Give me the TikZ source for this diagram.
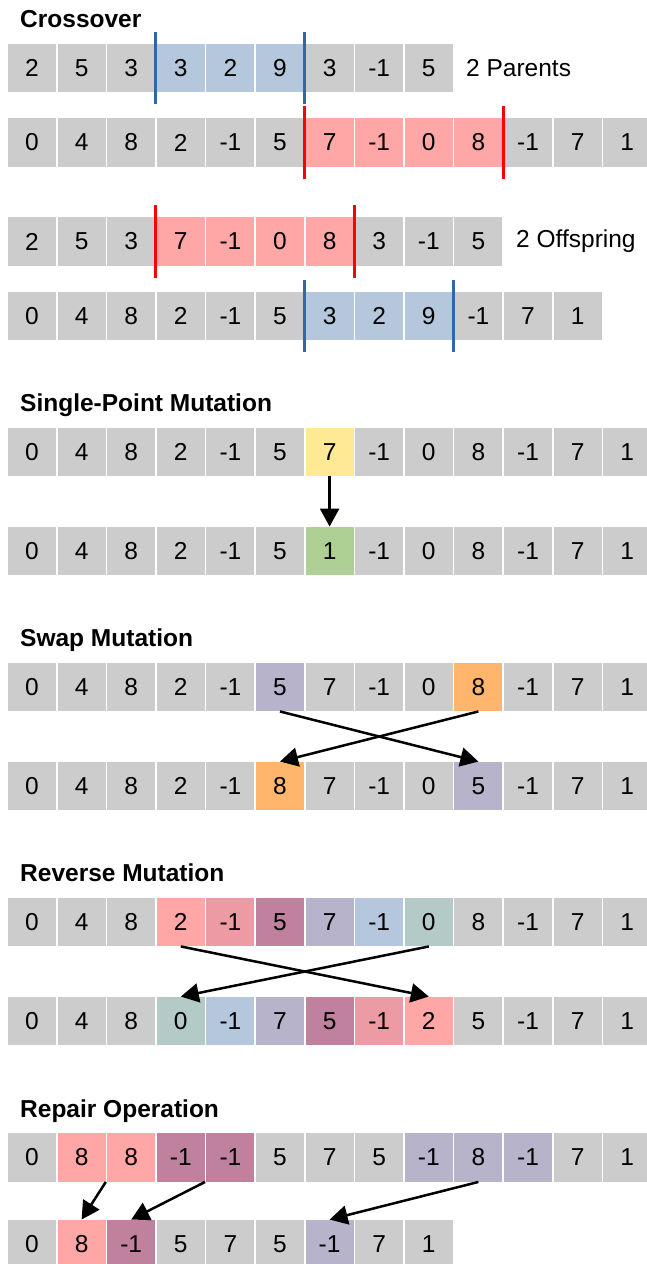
\documentclass[tikz,border=0pt]{standalone}
\usepackage{fontspec}
\setmainfont{Liberation Sans}
\usepackage{xcolor}
\usetikzlibrary{arrows.meta,calc}
\definecolor{cgray}{HTML}{CCCCCC}
\definecolor{cblue}{HTML}{B4C7DC}
\definecolor{cred}{HTML}{FFA6A6}
\definecolor{cyel}{HTML}{FFE994}
\definecolor{cgreen}{HTML}{AFD095}
\definecolor{clav}{HTML}{B7B3CA}
\definecolor{corange}{HTML}{FFB66C}
\definecolor{cpink}{HTML}{EC9BA4}
\definecolor{cmauve}{HTML}{BF819E}
\definecolor{cteal}{HTML}{B3CAC7}
\definecolor{lineblue}{HTML}{3465A4}
\definecolor{linered}{HTML}{FF0000}

\begin{document}
\begin{tikzpicture}[
    x=1pt, y=-1pt,
    font=\fontsize{24.5}{28}\selectfont,
    cell/.style={
        rectangle,
        inner sep=0pt,
        minimum width=48pt,
        minimum height=48.5pt,
        fill=cgray
    },
    title/.style={
        anchor=base west,
        inner sep=0pt,
        font=\fontsize{24.5}{28}\selectfont\bfseries
    },
    note/.style={
        anchor=west,
        inner sep=0pt
    },
    bluecut/.style={
        draw=lineblue,
        line width=3pt
    },
    redcut/.style={
        draw=linered,
        line width=3pt
    },
    arrow/.style={
        -{Triangle[width=19pt,length=18pt]},
        line width=2.5pt,
        draw=black
    }
]

\useasboundingbox (0,0) rectangle (647,1264);

% Crossover
\node[title] (tcross) at (20,27) {Crossover};

\foreach \v/\c [count=\i from 0] in {2/cgray,5/cgray,3/cgray,3/cblue,2/cblue,9/cblue,3/cgray,-1/cgray,5/cgray}
    \node[cell, fill=\c] (p1-\i) at ({32+49.6*\i},68) {\v};
\node[note] (parents) at (466,68) {2 Parents};

\foreach \v/\c [count=\i from 0] in {0/cgray,4/cgray,8/cgray,2/cgray,-1/cgray,5/cgray,7/cred,-1/cred,0/cred,8/cred,-1/cgray,7/cgray,1/cgray}
    \node[cell, fill=\c] (p2-\i) at ({32+49.6*\i},142.5) {\v};

\draw[bluecut] ($(p1-3.north west)+(-0.8,-12)$) -- ($(p1-3.south west)+(-0.8,12)$);
\draw[bluecut] ($(p1-6.north west)+(-0.8,-12)$) -- ($(p1-6.south west)+(-0.8,12)$);
\draw[redcut] ($(p2-6.north west)+(-0.8,-12)$) -- ($(p2-6.south west)+(-0.8,12)$);
\draw[redcut] ($(p2-10.north west)+(-0.8,-12)$) -- ($(p2-10.south west)+(-0.8,12)$);

\foreach \v/\c [count=\i from 0] in {2/cgray,5/cgray,3/cgray,7/cred,-1/cred,0/cred,8/cred,3/cgray,-1/cgray,5/cgray}
    \node[cell, fill=\c] (o1-\i) at ({32+49.6*\i},241.5) {\v};
\node[note] (offspring) at (516,241.5) {2 Offspring};

\foreach \v/\c [count=\i from 0] in {0/cgray,4/cgray,8/cgray,2/cgray,-1/cgray,5/cgray,3/cblue,2/cblue,9/cblue,-1/cgray,7/cgray,1/cgray}
    \node[cell, fill=\c] (o2-\i) at ({32+49.6*\i},316) {\v};

\draw[redcut] ($(o1-3.north west)+(-0.8,-12)$) -- ($(o1-3.south west)+(-0.8,12)$);
\draw[redcut] ($(o1-7.north west)+(-0.8,-12)$) -- ($(o1-7.south west)+(-0.8,12)$);
\draw[bluecut] ($(o2-6.north west)+(-0.8,-12)$) -- ($(o2-6.south west)+(-0.8,12)$);
\draw[bluecut] ($(o2-9.north west)+(-0.8,-12)$) -- ($(o2-9.south west)+(-0.8,12)$);

% Single-point mutation
\node[title] (tsingle) at (20,411.7) {Single-Point Mutation};

\foreach \v/\c [count=\i from 0] in {0/cgray,4/cgray,8/cgray,2/cgray,-1/cgray,5/cgray,7/cyel,-1/cgray,0/cgray,8/cgray,-1/cgray,7/cgray,1/cgray}
    \node[cell, fill=\c] (m1-\i) at ({32+49.6*\i},452) {\v};
\foreach \v/\c [count=\i from 0] in {0/cgray,4/cgray,8/cgray,2/cgray,-1/cgray,5/cgray,1/cgreen,-1/cgray,0/cgray,8/cgray,-1/cgray,7/cgray,1/cgray}
    \node[cell, fill=\c] (m2-\i) at ({32+49.6*\i},551) {\v};

\draw[arrow] (m1-6.south) -- (m2-6.north);

% Swap mutation
\node[title] (tswap) at (20,646.7) {Swap Mutation};

\foreach \v/\c [count=\i from 0] in {0/cgray,4/cgray,8/cgray,2/cgray,-1/cgray,5/clav,7/cgray,-1/cgray,0/cgray,8/corange,-1/cgray,7/cgray,1/cgray}
    \node[cell, fill=\c] (s1-\i) at ({32+49.6*\i},687) {\v};
\foreach \v/\c [count=\i from 0] in {0/cgray,4/cgray,8/cgray,2/cgray,-1/cgray,8/corange,7/cgray,-1/cgray,0/cgray,5/clav,-1/cgray,7/cgray,1/cgray}
    \node[cell, fill=\c] (s2-\i) at ({32+49.6*\i},786) {\v};

\draw[arrow] (s1-5.south) -- (s2-9.north);
\draw[arrow] (s1-9.south) -- (s2-5.north);

% Reverse mutation
\node[title] (treverse) at (20,881.7) {Reverse Mutation};

\foreach \v/\c [count=\i from 0] in {0/cgray,4/cgray,8/cgray,2/cred,-1/cpink,5/cmauve,7/clav,-1/cblue,0/cteal,8/cgray,-1/cgray,7/cgray,1/cgray}
    \node[cell, fill=\c] (r1-\i) at ({32+49.6*\i},922) {\v};
\foreach \v/\c [count=\i from 0] in {0/cgray,4/cgray,8/cgray,0/cteal,-1/cblue,7/clav,5/cmauve,-1/cpink,2/cred,5/cgray,-1/cgray,7/cgray,1/cgray}
    \node[cell, fill=\c] (r2-\i) at ({32+49.6*\i},1021) {\v};

\draw[arrow] (r1-3.south) -- (r2-8.north);
\draw[arrow] (r1-8.south) -- (r2-3.north);

% Repair operation
\node[title] (trepair) at (20,1117) {Repair Operation};

\foreach \v/\c [count=\i from 0] in {0/cgray,8/cred,8/cred,-1/cmauve,-1/cmauve,5/cgray,7/cgray,5/cgray,-1/clav,8/clav,-1/clav,7/cgray,1/cgray}
    \node[cell, fill=\c] (f1-\i) at ({32+49.6*\i},1157.5) {\v};
\foreach \v/\c [count=\i from 0] in {0/cgray,8/cred,-1/cmauve,5/cgray,7/cgray,5/cgray,-1/clav,7/cgray,1/cgray}
    \node[cell, fill=\c] (f2-\i) at ({32+49.6*\i},1244) {\v};

\draw[arrow] (f1-1.south east) -- (f2-1.north);
\draw[arrow] (f1-3.south east) -- (f2-2.north);
\draw[arrow] (f1-9.south) -- (f2-6.north);

\end{tikzpicture}
\end{document}
